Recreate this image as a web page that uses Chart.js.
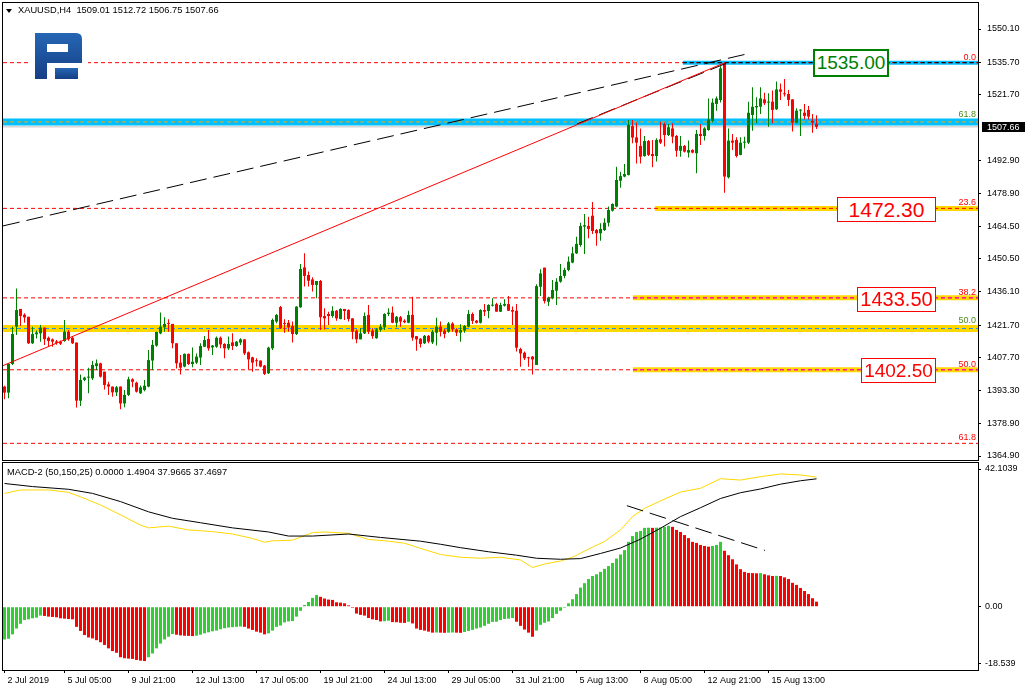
<!DOCTYPE html>
<html>
<head>
<meta charset="utf-8">
<title>XAUUSD H4</title>
<script src="https://cdn.jsdelivr.net/npm/chart.js@4.4.0/dist/chart.umd.min.js"></script>
<style>
body { margin: 0; background: #fff; font-family: "Liberation Sans", Arial, sans-serif; }
#wrap { position: relative; width: 1027px; height: 691px; overflow: hidden; background: #fff; }
#priceChart { position: absolute; left: 0; top: 0; }
#macdChart { position: absolute; left: 0; top: 462px; }
.txt { position: absolute; font-size: 9.3px; color: #000; white-space: pre; line-height: 12px; }
.tri { position: absolute; left: 6px; top: 9px; width: 0; height: 0; border-left: 3px solid transparent; border-right: 3px solid transparent; border-top: 4px solid #000; }
.tag { position: absolute; background: #fff; font-family: "Liberation Sans", Arial, sans-serif; text-align: center; box-sizing: border-box; white-space: nowrap; overflow: hidden; }
#logo { position: absolute; left: 30px; top: 28px; }
</style>
</head>
<body>
<div id="wrap">
  <canvas id="priceChart" width="1027" height="462"></canvas>
  <canvas id="macdChart" width="1027" height="229"></canvas>

  <svg id="logo" width="58" height="56">
    <defs>
      <linearGradient id="lg" x1="0" y1="0" x2="0" y2="1">
        <stop offset="0" stop-color="#2666b4"/>
        <stop offset="1" stop-color="#153f85"/>
      </linearGradient>
    </defs>
    <rect width="58" height="56" fill="#fff"/>
    <path d="M5 5 H46 Q52 5 52 11 V35 H17 V51 H5 Z M17 16 H38 V24 H17 Z" fill="url(#lg)" fill-rule="evenodd"/>
    <rect x="25" y="40" width="23" height="11" fill="url(#lg)"/>
  </svg>

  <div class="tri"></div>
  <div class="txt" style="left:18px;top:4px">XAUUSD,H4  1509.01 1512.72 1506.75 1507.66</div>
  <div class="txt" style="left:7px;top:466px">MACD-2 (50,150,25) 0.0000 1.4904 37.9665 37.4697</div>

  <div class="tag" style="left:813px;top:49px;width:76px;height:28px;border:2px solid #008000;color:#008000;font-size:19px;line-height:24px">1535.00</div>
  <div class="tag" style="left:837px;top:197px;width:99px;height:25px;border:1px solid #ff0000;color:#ff0000;font-size:21px;line-height:23px">1472.30</div>
  <div class="tag" style="left:857px;top:287px;width:79px;height:25px;border:1px solid #ff0000;color:#ff0000;font-size:20px;line-height:23px">1433.50</div>
  <div class="tag" style="left:861px;top:358px;width:75px;height:25px;border:1px solid #ff0000;color:#ff0000;font-size:19px;line-height:23px">1402.50</div>
</div>

<script>
'use strict';

// H4 candles, 2 Jul 2019 17:00 .. 16 Aug 2019, one entry per bar
let opens = [
    1395.0, 1392.4, 1404.8, 1421.0, 1428.7, 1426.2, 1425.3, 1413.8, 1417.7, 1418.1,
    1420.6, 1416.2, 1415.5, 1414.6, 1414.5, 1414.8, 1418.8, 1416.2, 1414.1, 1388.9,
    1397.9, 1398.9, 1398.6, 1403.9, 1405.1, 1401.5, 1396.0, 1395.0, 1392.5, 1395.0,
    1387.7, 1391.4, 1398.2, 1396.7, 1392.1, 1393.5, 1395.0, 1406.3, 1412.8, 1418.1,
    1420.7, 1422.5, 1422.2, 1413.8, 1405.4, 1403.7, 1409.2, 1404.8, 1405.4, 1407.6,
    1412.3, 1415.7, 1412.0, 1412.3, 1416.2, 1413.5, 1411.6, 1414.2, 1412.6, 1414.1,
    1415.5, 1409.9, 1407.7, 1406.3, 1406.3, 1404.1, 1400.8, 1411.6, 1423.2, 1429.5,
    1422.5, 1422.7, 1421.3, 1417.8, 1429.4, 1446.7, 1443.4, 1441.5, 1439.1, 1440.8,
    1425.6, 1426.5, 1425.6, 1427.9, 1424.3, 1428.7, 1428.2, 1424.6, 1419.3, 1415.5,
    1418.1, 1426.1, 1419.3, 1416.0, 1419.6, 1420.7, 1426.5, 1427.1, 1422.7, 1425.1,
    1423.6, 1422.7, 1426.1, 1416.9, 1415.8, 1413.8, 1417.0, 1414.2, 1418.4, 1421.0,
    1419.3, 1418.8, 1422.4, 1419.8, 1418.4, 1419.3, 1421.0, 1426.5, 1423.6, 1422.7,
    1428.2, 1427.8, 1430.1, 1430.8, 1427.5, 1430.1, 1430.8, 1428.2, 1427.9, 1411.3,
    1409.7, 1407.6, 1408.0, 1404.4, 1438.3, 1446.6, 1431.8, 1433.3, 1436.6, 1440.5,
    1443.0, 1445.6, 1448.8, 1452.8, 1456.4, 1464.4, 1464.7, 1469.1, 1462.9, 1461.5,
    1462.9, 1466.1, 1471.3, 1473.1, 1484.3, 1486.1, 1486.8, 1508.0, 1503.1, 1499.4,
    1495.0, 1501.5, 1495.9, 1495.0, 1502.3, 1508.9, 1504.1, 1507.0, 1503.7, 1497.3,
    1499.4, 1496.5, 1497.6, 1496.2, 1504.6, 1503.7, 1506.3, 1510.2, 1517.6, 1519.3,
    1535.2, 1485.8, 1501.7, 1502.0, 1495.5, 1500.8, 1500.8, 1512.8, 1516.1, 1516.4,
    1519.6, 1518.2, 1518.6, 1515.3, 1523.9, 1522.2, 1521.9, 1519.6, 1509.5, 1514.7,
    1513.8, 1515.0, 1510.3, 1509.01
];
let highs = [
    1395.4, 1405.1, 1421.0, 1437.6, 1428.7, 1426.8, 1425.3, 1421.0, 1419.3, 1421.7,
    1420.6, 1416.7, 1415.9, 1415.2, 1415.0, 1423.9, 1419.6, 1416.7, 1414.1, 1400.3,
    1399.3, 1403.2, 1406.1, 1406.8, 1405.3, 1401.5, 1397.1, 1395.0, 1395.3, 1395.0,
    1393.5, 1399.3, 1398.6, 1397.1, 1395.5, 1397.9, 1410.9, 1415.2, 1418.8, 1427.1,
    1425.1, 1424.2, 1422.2, 1413.8, 1408.7, 1409.4, 1409.4, 1412.0, 1409.4, 1413.8,
    1417.0, 1419.6, 1413.1, 1416.7, 1416.7, 1413.8, 1416.7, 1418.1, 1414.8, 1416.0,
    1415.5, 1410.2, 1408.0, 1407.3, 1406.3, 1404.4, 1412.3, 1424.5, 1426.5, 1430.0,
    1424.2, 1423.9, 1423.2, 1429.9, 1448.2, 1452.8, 1444.9, 1442.4, 1440.8, 1441.2,
    1429.0, 1427.5, 1429.9, 1428.2, 1429.0, 1428.7, 1428.5, 1424.6, 1419.8, 1420.3,
    1427.1, 1430.4, 1420.3, 1420.3, 1422.2, 1426.8, 1429.0, 1429.7, 1425.6, 1425.6,
    1424.2, 1427.9, 1434.0, 1416.9, 1416.0, 1417.4, 1417.4, 1419.5, 1424.9, 1423.2,
    1420.0, 1423.0, 1422.9, 1420.3, 1422.0, 1421.7, 1428.2, 1427.1, 1423.9, 1428.5,
    1430.8, 1430.7, 1433.3, 1431.4, 1431.4, 1432.9, 1434.3, 1429.7, 1430.8, 1411.9,
    1410.2, 1408.0, 1408.3, 1439.4, 1445.9, 1446.6, 1434.0, 1441.2, 1442.0, 1448.2,
    1446.6, 1451.4, 1455.7, 1460.0, 1466.1, 1469.9, 1468.7, 1475.1, 1463.4, 1465.8,
    1468.0, 1473.1, 1474.5, 1490.4, 1488.2, 1491.6, 1510.6, 1510.6, 1509.5, 1507.0,
    1503.7, 1502.0, 1502.0, 1502.7, 1509.9, 1509.5, 1508.9, 1509.2, 1504.1, 1503.7,
    1499.8, 1501.7, 1497.9, 1506.3, 1508.9, 1507.5, 1520.0, 1520.0, 1520.8, 1534.0,
    1535.5, 1507.0, 1504.6, 1503.1, 1503.1, 1503.4, 1518.6, 1524.8, 1520.5, 1524.8,
    1522.5, 1522.2, 1523.4, 1527.3, 1526.5, 1528.4, 1523.6, 1519.6, 1515.7, 1515.3,
    1517.6, 1516.7, 1513.2, 1512.72
];
let lows = [
    1389.5, 1389.9, 1404.4, 1417.4, 1421.3, 1422.7, 1413.5, 1413.5, 1415.9, 1414.5,
    1413.0, 1412.3, 1412.3, 1413.2, 1413.0, 1414.5, 1414.9, 1413.5, 1385.9, 1386.6,
    1397.3, 1392.1, 1397.9, 1402.2, 1399.0, 1393.8, 1391.4, 1390.6, 1390.9, 1385.2,
    1386.0, 1390.9, 1394.7, 1392.4, 1391.8, 1393.0, 1394.7, 1402.2, 1412.3, 1417.7,
    1418.8, 1418.8, 1411.6, 1402.9, 1400.3, 1403.4, 1404.4, 1403.4, 1404.8, 1404.4,
    1412.3, 1410.6, 1408.7, 1411.9, 1411.6, 1407.3, 1410.9, 1410.9, 1412.3, 1413.1,
    1408.7, 1402.5, 1401.5, 1403.7, 1403.4, 1400.0, 1400.5, 1410.9, 1422.5, 1420.0,
    1418.4, 1418.8, 1414.1, 1417.4, 1429.2, 1438.4, 1438.4, 1436.2, 1433.3, 1419.6,
    1419.8, 1421.7, 1424.9, 1423.6, 1424.2, 1423.9, 1423.2, 1415.5, 1413.8, 1415.5,
    1417.8, 1417.8, 1415.8, 1415.8, 1418.8, 1419.6, 1425.6, 1422.5, 1420.7, 1421.0,
    1422.5, 1422.5, 1414.9, 1410.6, 1412.0, 1413.5, 1413.8, 1413.5, 1412.8, 1416.7,
    1416.0, 1418.4, 1418.8, 1417.0, 1414.5, 1418.4, 1420.7, 1422.2, 1422.4, 1422.4,
    1425.6, 1424.6, 1429.7, 1427.5, 1427.4, 1429.7, 1427.9, 1421.7, 1410.2, 1403.6,
    1406.5, 1403.6, 1400.3, 1404.4, 1434.3, 1431.1, 1430.0, 1432.9, 1430.4, 1440.0,
    1442.0, 1445.0, 1448.5, 1452.5, 1455.7, 1452.5, 1459.3, 1461.2, 1456.1, 1458.3,
    1462.5, 1464.4, 1470.9, 1472.8, 1481.3, 1485.8, 1486.6, 1500.5, 1491.8, 1491.8,
    1494.7, 1495.0, 1490.1, 1492.6, 1500.2, 1499.1, 1503.7, 1500.5, 1494.7, 1494.7,
    1496.5, 1494.4, 1496.2, 1487.5, 1499.8, 1501.7, 1506.0, 1509.5, 1514.7, 1518.2,
    1479.1, 1485.3, 1497.6, 1494.4, 1495.3, 1498.3, 1500.2, 1506.0, 1509.2, 1513.2,
    1517.1, 1507.7, 1509.2, 1515.0, 1519.3, 1520.8, 1516.7, 1505.6, 1509.2, 1503.7,
    1510.9, 1510.9, 1505.1, 1506.75
];
let closes = [
    1392.4, 1404.8, 1417.8, 1428.2, 1425.6, 1425.0, 1413.8, 1417.8, 1418.5, 1420.6,
    1415.6, 1414.8, 1414.5, 1414.0, 1413.6, 1418.8, 1415.5, 1413.8, 1388.9, 1397.9,
    1398.9, 1399.2, 1404.4, 1405.1, 1399.3, 1395.7, 1395.0, 1392.5, 1394.7, 1387.7,
    1391.4, 1398.2, 1397.1, 1392.8, 1394.7, 1395.4, 1406.5, 1413.1, 1418.7, 1421.0,
    1422.2, 1422.2, 1413.8, 1405.1, 1403.2, 1409.2, 1404.8, 1405.8, 1408.0, 1412.6,
    1415.2, 1411.6, 1412.8, 1416.2, 1413.3, 1411.6, 1413.5, 1412.6, 1414.5, 1415.5,
    1409.4, 1406.8, 1405.4, 1406.0, 1403.7, 1400.5, 1411.9, 1423.9, 1426.1, 1420.3,
    1422.2, 1420.7, 1417.8, 1429.7, 1446.0, 1443.0, 1440.9, 1439.1, 1440.8, 1425.1,
    1424.6, 1425.6, 1427.9, 1424.6, 1428.7, 1427.8, 1424.3, 1418.8, 1415.5, 1418.1,
    1425.6, 1418.8, 1416.9, 1419.8, 1421.0, 1426.5, 1427.1, 1422.7, 1425.3, 1423.2,
    1422.9, 1426.1, 1416.2, 1415.5, 1413.5, 1417.0, 1414.5, 1418.8, 1421.0, 1418.8,
    1417.8, 1422.4, 1419.8, 1418.4, 1419.5, 1421.3, 1426.5, 1423.5, 1422.7, 1428.2,
    1427.5, 1430.4, 1430.4, 1427.5, 1430.4, 1430.8, 1427.9, 1427.5, 1411.9, 1409.4,
    1407.3, 1407.3, 1406.8, 1438.6, 1444.1, 1432.1, 1433.6, 1436.9, 1440.5, 1443.0,
    1445.6, 1449.2, 1452.8, 1456.9, 1464.7, 1465.0, 1463.4, 1462.5, 1461.5, 1463.4,
    1466.1, 1471.6, 1474.2, 1484.6, 1486.3, 1487.2, 1508.5, 1503.0, 1500.8, 1494.7,
    1501.5, 1495.5, 1495.0, 1502.0, 1500.8, 1504.1, 1507.5, 1503.4, 1497.3, 1499.4,
    1496.9, 1497.6, 1496.5, 1504.6, 1503.7, 1507.0, 1510.9, 1518.2, 1520.0, 1533.0,
    1486.1, 1501.7, 1500.8, 1495.0, 1500.8, 1501.2, 1513.8, 1516.4, 1516.7, 1520.0,
    1517.9, 1518.6, 1515.0, 1523.9, 1522.9, 1521.8, 1519.3, 1509.5, 1514.7, 1515.0,
    1512.4, 1512.1, 1509.5, 1507.66
];

// MACD-2 histogram, one value per bar
let histValues = [
    -9.6, -9.4, -8.1, -6.4, -5.0, -3.9, -3.7, -3.4, -3.2, -2.6,
    -2.7, -2.9, -3.0, -3.1, -3.4, -3.5, -3.6, -3.7, -5.9, -7.1,
    -8.3, -9.0, -9.3, -9.8, -10.4, -11.2, -12.2, -13.0, -13.5, -14.8,
    -15.1, -15.2, -15.3, -15.6, -15.8, -15.9, -14.8, -13.7, -12.2, -10.8,
    -9.6, -8.8, -8.0, -8.2, -8.4, -8.5, -8.55, -8.6, -8.5, -8.2,
    -7.8, -7.5, -7.2, -7.0, -6.6, -6.3, -6.1, -6.0, -5.9, -5.8,
    -5.9, -6.4, -6.8, -7.3, -7.6, -8.1, -7.8, -7.0, -5.9, -5.5,
    -4.6, -4.3, -4.2, -2.9, -1.2, 0.5, 1.4, 2.6, 3.4, 2.9,
    2.4, 2.1, 2.0, 1.3, 1.2, 1.0, 0.4, -0.3, -2.0, -2.4,
    -2.6, -3.3, -3.7, -3.9, -4.3, -4.25, -4.1, -4.5, -4.55, -4.7,
    -4.75, -4.4, -4.9, -6.4, -6.8, -7.0, -7.3, -7.6, -7.55, -7.6,
    -7.65, -7.6, -7.55, -7.6, -7.65, -7.4, -7.1, -6.8, -6.4, -6.1,
    -5.6, -5.0, -4.45, -4.4, -3.9, -3.6, -3.5, -3.3, -4.4, -5.6,
    -6.7, -7.6, -8.8, -7.0, -5.3, -4.7, -4.3, -3.3, -2.1, -1.2,
    -0.3, 1.0, 2.2, 3.7, 5.6, 6.9, 8.1, 9.0, 9.5, 10.2,
    11.1, 11.9, 12.8, 14.1, 15.3, 16.6, 19.0, 20.7, 21.9, 22.2,
    23.1, 23.15, 23.1, 23.15, 23.2, 23.4, 23.7, 23.4, 22.5, 21.9,
    21.0, 20.1, 19.0, 18.7, 18.1, 17.8, 17.6, 17.8, 18.1, 19.0,
    16.4, 15.1, 13.9, 12.4, 11.0, 10.2, 9.9, 9.85, 9.8, 9.85,
    9.5, 9.2, 9.0, 9.05, 9.0, 8.6, 8.1, 7.0, 6.4, 5.5,
    4.6, 3.7, 2.5, 1.49
];

// the two MACD-2 lines, read at these bars
let macdBars = [0, 4, 11, 16, 19, 24, 29, 34, 36, 41, 46, 52, 57, 62, 65, 67, 72, 77, 80, 86, 91, 96, 100, 104,
    109, 114, 119, 124, 129, 132, 135, 139, 142, 146, 150, 154, 157, 160, 164, 169, 174, 179, 184, 189, 194, 199, 203];
let macdLine = [33.2, 34.2, 34.2, 33.5, 32.2, 29.8, 26.9, 23.9, 23.1, 23.6, 22.5, 22.0, 21.3, 20.0, 18.9, 19.3, 19.5, 21.7, 21.9, 21.5, 19.7, 19.2, 18.6, 17.1,
    15.3, 14.5, 14.2, 14.5, 13.7, 11.5, 12.5, 13.4, 14.5, 16.9, 19.1, 22.5, 26.4, 28.8, 31.0, 33.6, 34.7, 37.5, 37.1, 38.1, 38.9, 38.6, 37.97];
let signalBars = [0, 7, 16, 22, 29, 36, 42, 49, 57, 66, 71, 77, 86, 94, 104,
    109, 114, 121, 128, 133, 139, 144, 149, 154, 159, 164, 169, 174, 179, 184, 189, 194, 199, 203];
let signalLine = [36.1, 35.2, 34.4, 33.2, 30.8, 27.8, 25.9, 24.6, 23.1, 21.9, 20.7, 20.7, 21.3, 20.3, 19.2,
    18.3, 17.3, 16.1, 15.1, 14.2, 13.9, 14.1, 15.6, 17.2, 19.8, 23.0, 26.4, 29.0, 31.7, 33.4, 34.5, 35.9, 36.9, 37.47];

// axes
let priceTicks = [1550.10, 1535.70, 1521.70, 1492.90, 1478.90, 1464.50, 1450.50, 1436.10, 1421.70, 1407.70, 1393.30, 1378.90, 1364.90];
let macdTicks = [42.1039, 0, -18.539];
let macdTickLabels = ['42.1039', '0.00', '-18.539'];
let timeTickBars = [0, 15, 31, 47, 63, 79, 95, 111, 127, 143, 159, 175, 191];
let timeTickLabels = ['2 Jul 2019', '5 Jul 05:00', '9 Jul 21:00', '12 Jul 13:00', '17 Jul 05:00', '19 Jul 21:00',
    '24 Jul 13:00', '29 Jul 05:00', '31 Jul 21:00', '5 Aug 13:00', '8 Aug 05:00', '12 Aug 21:00', '15 Aug 13:00'];

// drawn objects
let fibLevels = [1535.5, 1472.3, 1433.5, 1402.3, 1370.4];
let fibNames = ['0.0', '23.6', '38.2', '50.0', '61.8'];
let fib2Levels = [1509.8, 1420.2];
let fib2Names = ['61.8', '50.0'];
let zoneLevels = [1535.5, 1472.3, 1433.5, 1402.3];
let zoneFromBar = [169.6, 162.6, 157.1, 157.1];
let bid = 1507.66;
let trendBlack = [[-0.375, 1464.7], [186.4, 1539.6]];
let trendRed = [[-0.375, 1404.1], [179.7, 1535.2]];
let trendBlack2 = [[143.1, 1508.9], [181.4, 1535.9]];
let macdTrend = [[155.6, 29.6], [190.1, 16.5]];

const X_MIN = -0.375;
const X_MAX = X_MIN + 975 / 4;
const PRICE_MIN = 1363.17;
const PRICE_MAX = 1561.38;
const MACD_MIN = -18.539;
const MACD_MAX = 42.1039;

Chart.defaults.font.family = '"Liberation Sans", Arial, sans-serif';
Chart.defaults.font.size = 9;
Chart.defaults.color = '#000';

function hLine(level, from, color, width, dash, order) {
    return {
        type: 'line',
        data: [{ x: from, y: level }, { x: X_MAX, y: level }],
        borderColor: color,
        borderWidth: width,
        borderDash: dash,
        borderCapStyle: 'butt',
        pointRadius: 0,
        order: order
    };
}

function segment(points, color, dash, order) {
    return {
        type: 'line',
        data: points.map(p => ({ x: p[0], y: p[1] })),
        borderColor: color,
        borderWidth: 1,
        borderDash: dash,
        pointRadius: 0,
        order: order
    };
}

// keep the plot edges where the panel frame is, not pushed in by tick labels
function fitRightAxis(s) {
    s.width = 49;
    s.paddingTop = 0;
    s.paddingBottom = 0;
}

let panelBorder = {
    id: 'panelBorder',
    afterDraw(chart) {
        let a = chart.chartArea;
        let ctx = chart.ctx;
        ctx.save();
        ctx.strokeStyle = '#000';
        ctx.lineWidth = 1;
        ctx.strokeRect(a.left - 0.5, a.top - 0.5, a.right - a.left + 1, a.bottom - a.top + 1);
        ctx.restore();
    }
};

let levelText = {
    id: 'levelText',
    afterDatasetsDraw(chart) {
        let ctx = chart.ctx;
        let y = chart.scales.y;
        let right = chart.chartArea.right - 2;
        ctx.save();
        ctx.font = '9px "Liberation Sans"';
        ctx.textAlign = 'right';
        ctx.textBaseline = 'bottom';
        ctx.fillStyle = '#ff0000';
        fibLevels.forEach((v, k) => ctx.fillText(fibNames[k], right, y.getPixelForValue(v) - 1));
        ctx.fillStyle = '#4d8a1c';
        fib2Levels.forEach((v, k) => ctx.fillText(fib2Names[k], right, y.getPixelForValue(v) - 3));
        ctx.restore();
    }
};

let bidLabel = {
    id: 'bidLabel',
    afterDraw(chart) {
        let ctx = chart.ctx;
        let py = Math.round(chart.scales.y.getPixelForValue(bid));
        let x = chart.chartArea.right;
        ctx.save();
        ctx.fillStyle = '#000';
        ctx.fillRect(x + 4, py - 5, 43, 10);
        ctx.fillStyle = '#fff';
        ctx.font = '9px "Liberation Sans"';
        ctx.textAlign = 'left';
        ctx.textBaseline = 'middle';
        ctx.fillText(bid.toFixed(2), x + 9, py + 0.5);
        ctx.restore();
    }
};

let candleColors = closes.map((c, i) => c >= opens[i] ? '#008000' : '#ff0000');
let wickData = lows.map((l, i) => ({ x: i, y: [l, highs[i]] }));
let bodyData = opens.map((o, i) => ({ x: i, y: [o, closes[i]] }));

let priceDatasets = [
    hLine(fib2Levels[0], X_MIN, '#00bfff', 7, [], 30),
    hLine(fib2Levels[1], X_MIN, '#ffd700', 7, [], 30),
    hLine(zoneLevels[0], zoneFromBar[0], '#00bfff', 4, [], 30),
    hLine(zoneLevels[1], zoneFromBar[1], '#ffd700', 5, [], 30),
    hLine(zoneLevels[2], zoneFromBar[2], '#ffd700', 5, [], 30),
    hLine(zoneLevels[3], zoneFromBar[3], '#ffd700', 5, [], 30),
    hLine(bid, X_MIN, '#c0c0c0', 1, [], 25),
    hLine(fib2Levels[0], X_MIN, '#ffa500', 1, [4, 3], 20),
    hLine(fib2Levels[1], X_MIN, '#1e90ff', 1, [4, 3], 20)
];
fibLevels.forEach(v => priceDatasets.push(hLine(v, X_MIN, '#ff0000', 1, [4, 3], 20)));
priceDatasets.push(hLine(zoneLevels[0], zoneFromBar[0], '#000000', 1, [4, 3], 19));
priceDatasets.push(hLine(zoneLevels[2], zoneFromBar[2], '#ff00ff', 1, [4, 3], 19));
priceDatasets.push(hLine(zoneLevels[3], zoneFromBar[3], '#ff00ff', 1, [4, 3], 19));
priceDatasets.push({
    type: 'bar', data: wickData, backgroundColor: candleColors,
    barThickness: 1, grouped: false, borderWidth: 0, inflateAmount: 0, order: 6
});
priceDatasets.push({
    type: 'bar', data: bodyData, backgroundColor: candleColors,
    barThickness: 3, minBarLength: 1, grouped: false, borderWidth: 0, inflateAmount: 0, order: 5
});
priceDatasets.push(segment(trendBlack, '#000000', [17, 7], 2));
priceDatasets.push(segment(trendBlack2, '#000000', [17, 7], 2));
priceDatasets.push(segment(trendRed, '#ff0000', [], 1));

new Chart(document.getElementById('priceChart'), {
    type: 'bar',
    data: { datasets: priceDatasets },
    options: {
        responsive: false,
        animation: false,
        events: [],
        layout: { padding: { left: 3, top: 3, right: 0, bottom: 2 } },
        plugins: { legend: { display: false }, tooltip: { enabled: false } },
        scales: {
            x: { type: 'linear', min: X_MIN, max: X_MAX, display: false, offset: false, grid: { offset: false } },
            y: {
                position: 'right',
                min: PRICE_MIN,
                max: PRICE_MAX,
                afterFit: fitRightAxis,
                afterBuildTicks: s => { s.ticks = priceTicks.map(v => ({ value: v })); },
                ticks: { callback: v => v.toFixed(2), padding: 6, color: '#000' },
                grid: { drawOnChartArea: false, tickLength: 3, color: '#000' },
                border: { color: '#000' }
            }
        }
    },
    plugins: [panelBorder, levelText, bidLabel]
});

let histColors = histValues.map((v, i) => (i === 0 || v >= histValues[i - 1]) ? '#32cd32' : '#ff0000');
let macdInset = (MACD_MAX - MACD_MIN) / 207;

new Chart(document.getElementById('macdChart'), {
    type: 'bar',
    data: {
        datasets: [
            {
                type: 'bar', data: histValues.map((v, i) => ({ x: i, y: v })),
                backgroundColor: histColors, barThickness: 3, borderWidth: 0, inflateAmount: 0, order: 5
            },
            {
                type: 'line', data: macdBars.map((b, k) => ({ x: b, y: macdLine[k] })),
                borderColor: '#ffd700', borderWidth: 1, pointRadius: 0, order: 2
            },
            {
                type: 'line', data: signalBars.map((b, k) => ({ x: b, y: signalLine[k] })),
                borderColor: '#000000', borderWidth: 1, pointRadius: 0, order: 1
            },
            segment(macdTrend, '#000000', [17, 7], 0)
        ]
    },
    options: {
        responsive: false,
        animation: false,
        events: [],
        layout: { padding: { left: 3, top: 1, right: 0, bottom: 0 } },
        plugins: { legend: { display: false }, tooltip: { enabled: false } },
        scales: {
            x: {
                type: 'linear', min: X_MIN, max: X_MAX, offset: false,
                afterFit: s => { s.height = 21; s.paddingLeft = 0; s.paddingRight = 0; },
                afterBuildTicks: s => { s.ticks = timeTickBars.map(v => ({ value: v })); },
                ticks: {
                    autoSkip: false, maxRotation: 0, align: 'start', labelOffset: 3, padding: 2,
                    callback: (v, k) => timeTickLabels[k]
                },
                grid: { drawOnChartArea: false, tickLength: 3, color: '#000', offset: false },
                border: { color: '#000' }
            },
            y: {
                position: 'right',
                min: MACD_MIN,
                max: MACD_MAX,
                afterFit: fitRightAxis,
                afterBuildTicks: s => {
                    // top and bottom labels sit just inside the panel edges
                    s.ticks = macdTicks.map((v, k) => ({
                        value: k === 0 ? v - 6 * macdInset : (k === 2 ? v + 6.7 * macdInset : v)
                    }));
                },
                ticks: { callback: (v, k) => macdTickLabels[k], padding: 4 },
                grid: { drawOnChartArea: false, tickLength: 3, color: '#000' },
                border: { color: '#000' }
            }
        }
    },
    plugins: [panelBorder]
});
</script>
</body>
</html>
